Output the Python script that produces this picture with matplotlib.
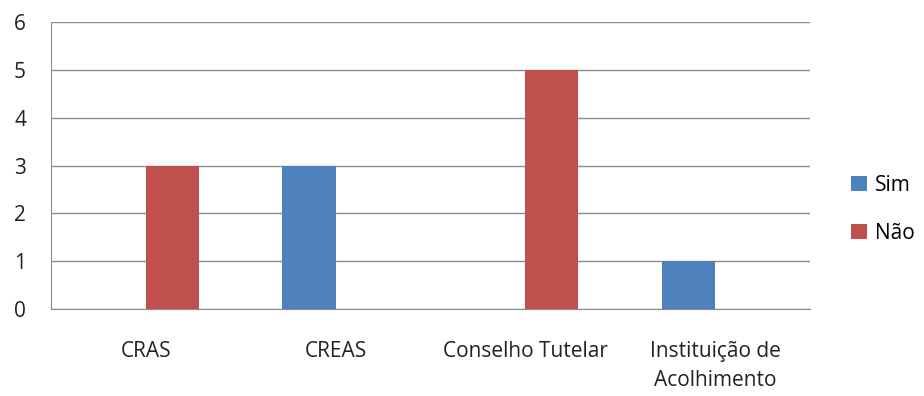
import matplotlib.pyplot as plt
import numpy as np

categories = ['CRAS', 'CREAS', 'Conselho Tutelar', 'Instituição de\nAcolhimento']
sim = [0, 3, 0, 1]
nao = [3, 0, 5, 0]

plt.rcParams['font.family'] = ['Open Sans', 'DejaVu Sans']
fs = 15

fig = plt.figure(figsize=(9.24, 3.96), dpi=100)
ax = fig.add_axes([0.0552, 0.2197, 0.8214, 0.7247])

x = np.arange(len(categories))
w = 0.28
ax.bar(x - w / 2, sim, w, color='#4f81bd', label='Sim', zorder=3)
ax.bar(x + w / 2, nao, w, color='#c0504d', label='Não', zorder=3)

ax.set_xlim(-0.5, len(categories) - 0.5)
ax.set_ylim(0, 6)
ax.set_yticks(range(7))
ax.yaxis.grid(True, color='#8c8c8c', linewidth=1)
ax.set_axisbelow(True)
ax.set_xticks(x)
ax.set_xticklabels(categories, fontsize=fs, color='#222222', linespacing=1.5)
ax.tick_params(axis='y', labelsize=fs, labelcolor='#222222', length=0, pad=18)
ax.tick_params(axis='x', length=0, pad=23)
for s in ['top', 'right']:
    ax.spines[s].set_visible(False)
for s in ['left', 'bottom']:
    ax.spines[s].set_color('#8c8c8c')

ax.legend(loc='center left', bbox_to_anchor=(851 / 924, 0.472),
          bbox_transform=fig.transFigure, frameon=False, borderpad=0,
          borderaxespad=0, fontsize=fs, handlelength=0.75, handleheight=0.75,
          labelspacing=1.3, handletextpad=0.4)

fig.savefig('out.png')
